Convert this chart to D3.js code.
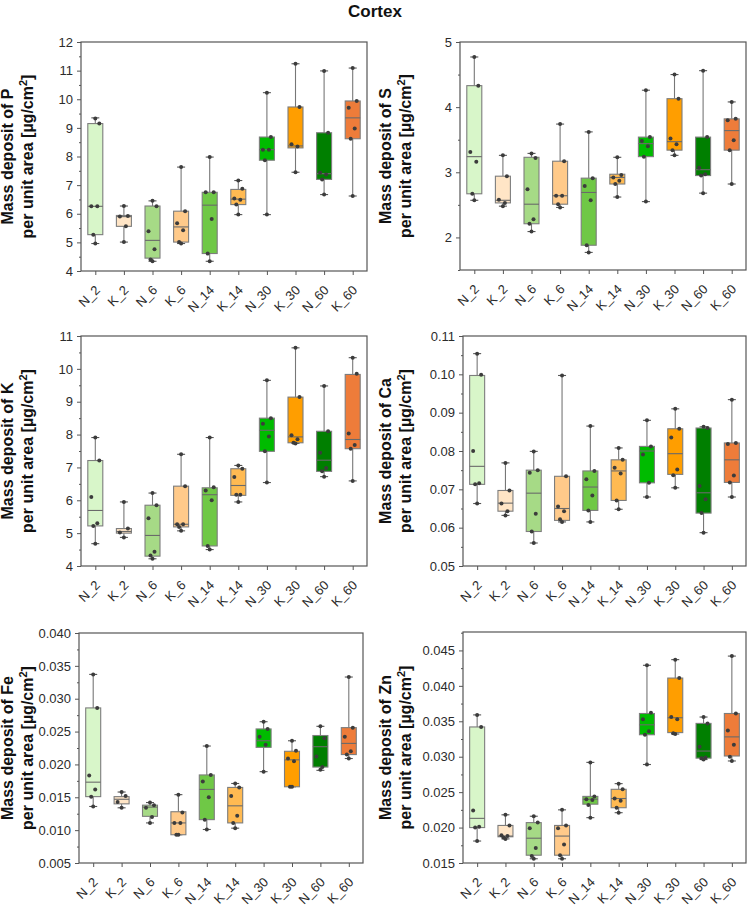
<!DOCTYPE html>
<html>
<head>
<meta charset="utf-8">
<script src="https://cdn.jsdelivr.net/npm/d3@7"></script>
<style>
  body { margin: 0; background: #fff; }
  svg { display: block; font-family: "Liberation Sans", Arial, sans-serif; }
</style>
</head>
<body>
<svg id="chart" width="750" height="907"></svg>
<script>
// Categories and fill colours
const categories = ["N_2", "K_2", "N_6", "K_6", "N_14", "K_14", "N_30", "K_30", "N_60", "K_60"];
const boxColors = ["#d8f6c9", "#ffe5c6", "#a6da86", "#ffca8a", "#6fc846",
                   "#ffba52", "#00bb00", "#ff9e00", "#007f00", "#ee7c3a"];

// Box stats per group: [min, q1, median, q3, max]
const pBoxes = [
  [4.96, 5.27, 6.26, 9.15, 9.35], [5.01, 5.56, 5.90, 5.94, 6.27], [4.34, 4.45, 5.07, 6.27, 6.45],
  [4.96, 5.01, 5.54, 6.09, 7.63], [4.34, 4.61, 6.30, 6.75, 7.98], [5.97, 6.32, 6.51, 6.85, 7.16],
  [5.97, 7.87, 8.24, 8.68, 10.23], [7.45, 8.30, 8.37, 9.73, 11.24], [6.67, 7.20, 7.40, 8.83, 10.99],
  [6.62, 8.62, 9.35, 9.94, 11.09]
];
const pPoints = [
  [9.33, 9.15, 6.26, 6.26, 5.27, 4.96], [6.27, 5.92, 5.90, 5.56, 5.01], [6.45, 6.26, 5.39, 4.76, 4.40, 4.34],
  [7.63, 6.09, 5.67, 5.42, 5.01, 4.96], [7.98, 6.75, 6.75, 5.82, 4.61, 4.34], [7.16, 6.87, 6.53, 6.49, 6.32, 5.97],
  [10.23, 8.68, 8.24, 8.24, 7.87, 5.97], [11.24, 9.73, 8.43, 8.35, 7.45], [10.99, 8.83, 7.43, 7.37, 7.20, 6.67],
  [11.09, 9.94, 9.70, 8.98, 8.62, 6.62]
];

const sBoxes = [
  [2.57, 2.67, 3.24, 4.33, 4.77], [2.48, 2.53, 2.57, 2.94, 3.26], [2.09, 2.21, 2.51, 3.23, 3.29],
  [2.46, 2.51, 2.64, 3.17, 3.74], [1.77, 1.88, 2.69, 2.91, 3.62], [2.62, 2.82, 2.92, 2.97, 3.23],
  [2.55, 3.24, 3.44, 3.54, 4.26], [3.26, 3.34, 3.47, 4.13, 4.50], [2.68, 2.95, 3.04, 3.54, 4.56],
  [2.82, 3.34, 3.64, 3.82, 4.08]
];
const sPoints = [
  [4.77, 4.33, 3.31, 3.16, 2.67, 2.57], [3.26, 2.94, 2.58, 2.53, 2.48], [3.29, 3.22, 2.74, 2.28, 2.21, 2.09],
  [3.74, 3.17, 2.64, 2.64, 2.51, 2.46], [3.62, 2.91, 2.79, 2.57, 1.88, 1.77], [3.23, 2.96, 2.92, 2.87, 2.82, 2.62],
  [4.26, 3.54, 3.48, 3.40, 3.24, 2.55], [4.50, 4.13, 3.52, 3.43, 3.34, 3.26], [4.56, 3.54, 3.07, 2.97, 2.95, 2.68],
  [4.08, 3.82, 3.80, 3.49, 3.34, 2.82]
];

const kBoxes = [
  [4.68, 5.22, 5.69, 7.21, 7.91], [4.87, 5.00, 5.05, 5.14, 5.95], [4.22, 4.30, 4.93, 5.85, 6.22],
  [5.07, 5.19, 5.27, 6.43, 7.40], [4.50, 4.61, 6.17, 6.38, 7.91], [5.95, 6.15, 6.45, 6.96, 7.06],
  [6.54, 7.49, 8.13, 8.50, 9.65], [7.73, 7.75, 7.93, 9.14, 10.64], [6.72, 6.88, 7.22, 8.10, 9.48],
  [6.59, 7.57, 7.85, 9.83, 10.34]
];
const kPoints = [
  [7.91, 7.21, 6.10, 5.30, 5.22, 4.68], [5.95, 5.14, 5.02, 4.87], [6.22, 5.85, 5.45, 4.43, 4.32, 4.22],
  [7.40, 6.43, 5.27, 5.27, 5.19, 5.07], [7.91, 6.40, 6.30, 6.00, 4.61, 4.50], [7.06, 6.96, 6.71, 6.17, 6.17, 5.95],
  [9.65, 8.50, 8.33, 7.94, 7.49, 6.54], [10.64, 9.14, 7.98, 7.86, 7.75, 7.73], [9.48, 8.10, 7.45, 6.98, 6.88, 6.72],
  [10.34, 9.85, 8.03, 7.68, 7.57, 6.59]
];

const caBoxes = [
  [0.0663, 0.0713, 0.0760, 0.0997, 0.1054], [0.0632, 0.0643, 0.0664, 0.0697, 0.0769],
  [0.0560, 0.0590, 0.0690, 0.0750, 0.0799], [0.0615, 0.0619, 0.0650, 0.0734, 0.0997],
  [0.0615, 0.0645, 0.0706, 0.0748, 0.0865], [0.0648, 0.0671, 0.0748, 0.0777, 0.0808],
  [0.0680, 0.0717, 0.0800, 0.0812, 0.0880], [0.0704, 0.0739, 0.0793, 0.0858, 0.0910],
  [0.0587, 0.0638, 0.0691, 0.0860, 0.0863], [0.0680, 0.0718, 0.0777, 0.0821, 0.0934]
];
const caPoints = [
  [0.1054, 0.0999, 0.0800, 0.0716, 0.0713, 0.0663], [0.0769, 0.0697, 0.0663, 0.0643, 0.0632],
  [0.0799, 0.0750, 0.0743, 0.0636, 0.0590, 0.0560], [0.0997, 0.0734, 0.0655, 0.0643, 0.0622, 0.0615],
  [0.0865, 0.0748, 0.0726, 0.0684, 0.0645, 0.0615], [0.0808, 0.0777, 0.0756, 0.0741, 0.0671, 0.0648],
  [0.0880, 0.0812, 0.0791, 0.0717, 0.0680], [0.0910, 0.0858, 0.0835, 0.0752, 0.0737, 0.0704],
  [0.0863, 0.0860, 0.0709, 0.0674, 0.0638, 0.0587], [0.0934, 0.0821, 0.0818, 0.0736, 0.0718, 0.0680]
];

const feBoxes = [
  [0.0136, 0.0151, 0.0173, 0.0286, 0.0337], [0.0134, 0.0140, 0.0147, 0.0151, 0.0158],
  [0.0111, 0.0121, 0.0135, 0.0138, 0.0142], [0.0093, 0.0093, 0.0111, 0.0128, 0.0154],
  [0.0101, 0.0116, 0.0162, 0.0184, 0.0228], [0.0103, 0.0111, 0.0137, 0.0165, 0.0171],
  [0.0189, 0.0226, 0.0236, 0.0254, 0.0265], [0.0166, 0.0166, 0.0207, 0.0220, 0.0236],
  [0.0191, 0.0196, 0.0227, 0.0244, 0.0258], [0.0209, 0.0215, 0.0232, 0.0256, 0.0333]
];
const fePoints = [
  [0.0337, 0.0286, 0.0183, 0.0162, 0.0151, 0.0136], [0.0158, 0.0152, 0.0143, 0.0134],
  [0.0142, 0.0138, 0.0134, 0.0120, 0.0111], [0.0154, 0.0127, 0.0111, 0.0111, 0.0093, 0.0093],
  [0.0228, 0.0184, 0.0174, 0.0150, 0.0116, 0.0101], [0.0171, 0.0165, 0.0152, 0.0122, 0.0111, 0.0103],
  [0.0265, 0.0254, 0.0242, 0.0230, 0.0189], [0.0236, 0.0221, 0.0209, 0.0205, 0.0166, 0.0166],
  [0.0258, 0.0240, 0.0212, 0.0196, 0.0192], [0.0333, 0.0256, 0.0242, 0.0220, 0.0215, 0.0209]
];

const znBoxes = [
  [0.0181, 0.0200, 0.0213, 0.0342, 0.0359], [0.0184, 0.0187, 0.0188, 0.0203, 0.0218],
  [0.0156, 0.0161, 0.0185, 0.0207, 0.0216], [0.0156, 0.0161, 0.0188, 0.0203, 0.0225],
  [0.0214, 0.0233, 0.0240, 0.0244, 0.0292], [0.0221, 0.0228, 0.0241, 0.0254, 0.0262],
  [0.0289, 0.0331, 0.0345, 0.0361, 0.0429], [0.0332, 0.0334, 0.0355, 0.0411, 0.0437],
  [0.0296, 0.0298, 0.0308, 0.0347, 0.0356], [0.0294, 0.0301, 0.0328, 0.0361, 0.0442]
];
const znPoints = [
  [0.0359, 0.0342, 0.0224, 0.0201, 0.0200, 0.0181], [0.0218, 0.0203, 0.0189, 0.0188, 0.0186, 0.0184],
  [0.0216, 0.0207, 0.0199, 0.0171, 0.0160, 0.0156], [0.0225, 0.0203, 0.0199, 0.0176, 0.0161, 0.0156],
  [0.0292, 0.0244, 0.0240, 0.0239, 0.0232, 0.0214], [0.0262, 0.0254, 0.0241, 0.0238, 0.0228, 0.0221],
  [0.0429, 0.0362, 0.0353, 0.0336, 0.0331, 0.0289], [0.0437, 0.0411, 0.0356, 0.0353, 0.0333, 0.0332],
  [0.0356, 0.0347, 0.0314, 0.0299, 0.0298, 0.0296], [0.0442, 0.0361, 0.0337, 0.0317, 0.0300, 0.0294]
];

// Tick labels
const pTicks = [4, 5, 6, 7, 8, 9, 10, 11, 12];
const sTicks = [2, 3, 4, 5];
const kTicks = [4, 5, 6, 7, 8, 9, 10, 11];
const caTicks = [0.05, 0.06, 0.07, 0.08, 0.09, 0.10, 0.11];
const feTicks = [0.005, 0.010, 0.015, 0.020, 0.025, 0.030, 0.035, 0.040];
const znTicks = [0.015, 0.020, 0.025, 0.030, 0.035, 0.040, 0.045];

const svg = d3.select("#chart");
const frameColor = "#555";
const textColor = "#2b2b2b";
const boxWidth = 15;
const capWidth = 8;
const jitter = [4, -4, 2, -2]; // horizontal spread of the raw points (px)

// Title
svg.append("text")
  .attr("x", 375)
  .attr("y", 17)
  .attr("text-anchor", "middle")
  .attr("font-size", 17)
  .attr("font-weight", "bold")
  .attr("fill", "#111")
  .text("Cortex");

const panels = [
  { el: "P", boxes: pBoxes, points: pPoints, ticks: pTicks, domain: [4, 12], step: 1, fmt: "d",
    left: 81, right: 367, top: 42, bottom: 271, labelX: 13 },
  { el: "S", boxes: sBoxes, points: sPoints, ticks: sTicks, domain: [1.5, 5], step: 1, fmt: "d",
    left: 460, right: 746, top: 42, bottom: 270, labelX: 391 },
  { el: "K", boxes: kBoxes, points: kPoints, ticks: kTicks, domain: [4, 11], step: 1, fmt: "d",
    left: 81, right: 367, top: 336, bottom: 566, labelX: 13 },
  { el: "Ca", boxes: caBoxes, points: caPoints, ticks: caTicks, domain: [0.05, 0.11], step: 0.01, fmt: ".2f",
    left: 463, right: 746, top: 336, bottom: 566, labelX: 391 },
  { el: "Fe", boxes: feBoxes, points: fePoints, ticks: feTicks, domain: [0.005, 0.040], step: 0.005, fmt: ".3f",
    left: 79, right: 363, top: 633, bottom: 863, labelX: 13 },
  { el: "Zn", boxes: znBoxes, points: znPoints, ticks: znTicks, domain: [0.015, 0.0476], step: 0.005, fmt: ".3f",
    left: 463, right: 746, top: 632, bottom: 863, labelX: 391 }
];

panels.forEach(drawPanel);

function drawPanel(cfg) {
  const g = svg.append("g").attr("class", "panel-" + cfg.el);

  const x = d3.scalePoint()
    .domain(categories)
    .range([cfg.left, cfg.right])
    .padding(0.5);
  const y = d3.scaleLinear()
    .domain(cfg.domain)
    .range([cfg.bottom, cfg.top]);

  // minor ticks halfway between the majors
  const minor = d3.range(cfg.domain[0], cfg.domain[1] + 1e-9, cfg.step / 2)
    .filter((v) => !cfg.ticks.some((t) => Math.abs(t - v) < 1e-9));

  g.append("g")
    .attr("transform", `translate(${cfg.left},0)`)
    .call(d3.axisLeft(y).tickValues(minor).tickSize(2).tickFormat(""))
    .call((s) => s.select(".domain").remove())
    .selectAll("line").attr("stroke", frameColor);

  g.append("g")
    .attr("transform", `translate(${cfg.left},0)`)
    .call(d3.axisLeft(y).tickValues(cfg.ticks).tickSize(4).tickPadding(4).tickFormat(d3.format(cfg.fmt)))
    .call((s) => s.select(".domain").remove())
    .call((s) => s.selectAll("line").attr("stroke", frameColor))
    .selectAll("text")
    .attr("font-size", 13)
    .attr("font-family", "Liberation Sans, Arial, sans-serif")
    .attr("fill", textColor);

  // x axis with rotated labels
  g.append("g")
    .attr("transform", `translate(0,${cfg.bottom})`)
    .call(d3.axisBottom(x).tickSize(4).tickPadding(3))
    .call((s) => s.select(".domain").remove())
    .call((s) => s.selectAll("line").attr("stroke", frameColor))
    .selectAll("text")
    .attr("font-size", 13)
    .attr("font-family", "Liberation Sans, Arial, sans-serif")
    .attr("fill", textColor)
    .attr("text-anchor", "end")
    .attr("dy", null)
    .attr("y", 0)
    .attr("transform", "translate(5,20) rotate(-45)");

  // frame
  g.append("rect")
    .attr("x", cfg.left)
    .attr("y", cfg.top)
    .attr("width", cfg.right - cfg.left)
    .attr("height", cfg.bottom - cfg.top)
    .attr("fill", "none")
    .attr("stroke", frameColor)
    .attr("stroke-width", 1.2);

  // boxes
  const groups = g.selectAll(".grp")
    .data(categories.map((c, i) => ({ cat: c, stats: cfg.boxes[i], pts: cfg.points[i], color: boxColors[i] })))
    .enter()
    .append("g")
    .attr("class", "grp");

  groups.append("line") // upper whisker
    .attr("x1", (d) => x(d.cat)).attr("x2", (d) => x(d.cat))
    .attr("y1", (d) => y(d.stats[4])).attr("y2", (d) => y(d.stats[3]))
    .attr("stroke", "#777").attr("stroke-width", 1.1);
  groups.append("line") // lower whisker
    .attr("x1", (d) => x(d.cat)).attr("x2", (d) => x(d.cat))
    .attr("y1", (d) => y(d.stats[1])).attr("y2", (d) => y(d.stats[0]))
    .attr("stroke", "#777").attr("stroke-width", 1.1);
  [0, 4].forEach((k) => {
    groups.append("line") // caps
      .attr("x1", (d) => x(d.cat) - capWidth / 2).attr("x2", (d) => x(d.cat) + capWidth / 2)
      .attr("y1", (d) => y(d.stats[k])).attr("y2", (d) => y(d.stats[k]))
      .attr("stroke", "#555").attr("stroke-width", 1.1);
  });

  groups.append("rect")
    .attr("x", (d) => x(d.cat) - boxWidth / 2)
    .attr("y", (d) => y(d.stats[3]))
    .attr("width", boxWidth)
    .attr("height", (d) => Math.max(1, y(d.stats[1]) - y(d.stats[3])))
    .attr("fill", (d) => d.color)
    .attr("stroke", "#7d7d7d")
    .attr("stroke-width", 1.1);

  groups.append("line") // median
    .attr("x1", (d) => x(d.cat) - boxWidth / 2).attr("x2", (d) => x(d.cat) + boxWidth / 2)
    .attr("y1", (d) => y(d.stats[2])).attr("y2", (d) => y(d.stats[2]))
    .attr("stroke", "#6a6a6a").attr("stroke-width", 1.1);

  // raw data points
  groups.selectAll("circle")
    .data((d) => d.pts.map((v, i) => ({ v, i, n: d.pts.length, cat: d.cat })))
    .enter()
    .append("circle")
    .attr("cx", (p) => x(p.cat) + (p.i === 0 || p.i === p.n - 1 ? 0 : jitter[(p.i - 1) % jitter.length]))
    .attr("cy", (p) => y(p.v))
    .attr("r", 2)
    .attr("fill", "#3c3c3c");

  // y axis title, two lines
  const cy = (cfg.top + cfg.bottom) / 2;
  const title = g.append("text")
    .attr("transform", `translate(${cfg.labelX},${cy}) rotate(-90)`)
    .attr("text-anchor", "middle")
    .attr("font-size", 16)
    .attr("font-weight", "bold")
    .attr("fill", "#111");
  title.append("tspan").attr("x", 0).attr("y", 0).text("Mass deposit of " + cfg.el);
  title.append("tspan").attr("x", 0).attr("y", 20).text("per unit area [µg/cm");
  title.append("tspan").attr("dy", -6).attr("font-size", 11).text("2");
  title.append("tspan").attr("dy", 6).text("]");
}
</script>
</body>
</html>
